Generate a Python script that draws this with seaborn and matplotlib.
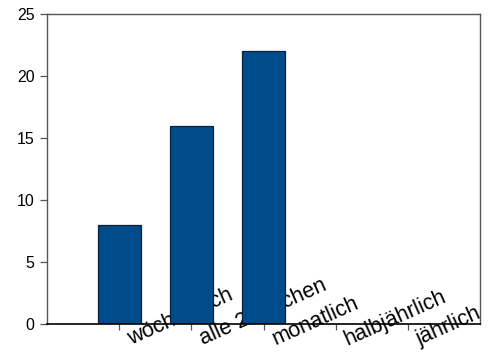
import matplotlib
matplotlib.use("Agg")
import matplotlib.pyplot as plt
import matplotlib.transforms as mtransforms
import pandas as pd
import seaborn as sns

# Survey: how often (Häufigkeit)
categories = ["wöchentlich", "alle 2 Wochen", "monatlich", "halbjährlich", "jährlich"]
counts = [8, 16, 22, 0, 0]
y_ticks = [0, 5, 10, 15, 20, 25]

sns.set_theme(style="white")
plt.rcParams["font.family"] = ["Liberation Sans", "DejaVu Sans"]

df = pd.DataFrame({"Kategorie": categories, "Anzahl": counts})

fig = plt.figure(figsize=(4.88, 3.55), dpi=100)
ax = fig.add_axes([47 / 488, 1 - 324 / 355, 433 / 488, 310 / 355])

sns.barplot(data=df, x="Kategorie", y="Anzahl", order=categories,
            color="#004C8A", saturation=1, width=0.6,
            edgecolor="#0B1F3A", linewidth=0.9, ax=ax)
for p in ax.patches:
    p.set_zorder(2)

ax.set_xlim(-1, len(categories))
ax.set_ylim(0, 25)
ax.set_yticks(y_ticks)
ax.set_yticklabels([str(v) for v in y_ticks], fontsize=11.5, color="black")
ax.set_xticks(range(len(categories)))
ax.set_xticklabels([""] * len(categories))
ax.set_xlabel("")
ax.set_ylabel("")

ax.tick_params(axis="y", which="both", left=True, length=5, width=0.9,
               color="#555555", pad=4)
ax.tick_params(axis="x", which="both", bottom=True, length=4, width=0.9,
               color="#555555")

for side in ["left", "top", "right"]:
    ax.spines[side].set_visible(True)
    ax.spines[side].set_color("#555555")
    ax.spines[side].set_linewidth(1.0)
ax.spines["bottom"].set_visible(True)
ax.spines["bottom"].set_color("black")
ax.spines["bottom"].set_linewidth(1.2)
for s in ax.spines.values():
    s.set_zorder(3)

# rotated category labels, drawn beneath the bars
base = mtransforms.blended_transform_factory(ax.transData, ax.transAxes)
shift = mtransforms.ScaledTranslation(12 / 100, -21 / 100, fig.dpi_scale_trans)
for i, name in enumerate(categories):
    ax.text(i, 0, name, transform=base + shift, rotation=24,
            rotation_mode="anchor", ha="left", va="baseline",
            fontsize=15.6, color="black", clip_on=False, zorder=0.5)

fig.savefig("out.png", dpi=100)
